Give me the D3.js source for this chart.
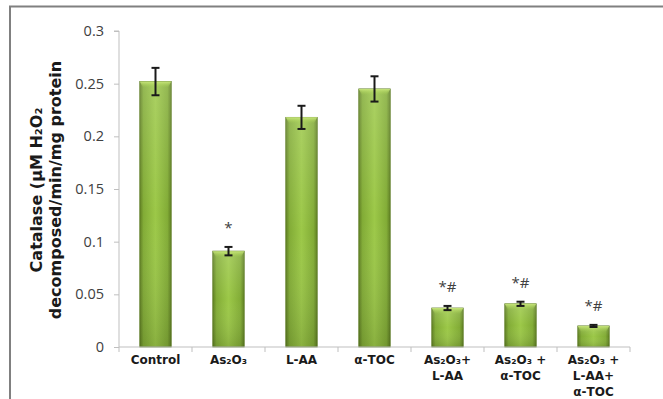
<!DOCTYPE html>
<html><head><meta charset="utf-8">
<script src="https://cdn.jsdelivr.net/npm/d3@7"></script>
<style>body{margin:0;background:#fff}svg{display:block}</style>
</head><body>
<script>
const categories = ["Control", "As₂O₃", "L-AA", "α-TOC", "As₂O₃+ L-AA", "As₂O₃ + α-TOC", "As₂O₃ + L-AA+ α-TOC"];
const values = [0.252, 0.091, 0.218, 0.245, 0.037, 0.041, 0.020];
const errors = [0.013, 0.004, 0.011, 0.012, 0.002, 0.002, 0.001];
const marks = ["", "*", "", "", "*#", "*#", "*#"];
const yTicks = [0, 0.05, 0.1, 0.15, 0.2, 0.25, 0.3];
const yTickLabels = ["0", "0.05", "0.1", "0.15", "0.2", "0.25", "0.3"];

const W = 663, H = 399;
const svg = d3.select("body").append("svg").attr("width", W).attr("height", H);

// frame
svg.append("path").attr("d", `M10,${H} L10,6.5 L${W},6.5`).attr("fill","none").attr("stroke","#808080").attr("stroke-width",2);

const x = d3.scaleBand().domain(categories).range([119, 630]).paddingInner(0.57).paddingOuter(0.285);
const y = d3.scaleLinear().domain([0, 0.3]).range([347, 31]);

const defs = svg.append("defs");
const gh = defs.append("linearGradient").attr("id","gh").attr("x1",0).attr("x2",1).attr("y1",0).attr("y2",0);
[[0,"#5f7f22"],[0.12,"#82ac36"],[0.5,"#9cc848"],[0.88,"#82ac36"],[1,"#5f7f22"]].forEach(s=>gh.append("stop").attr("offset",s[0]).attr("stop-color",s[1]));
const gv = defs.append("linearGradient").attr("id","gv").attr("x1",0).attr("x2",0).attr("y1",0).attr("y2",1);
[[0,"#ffffff",0.15],[0.5,"#ffffff",0],[1,"#000000",0.12]].forEach(s=>gv.append("stop").attr("offset",s[0]).attr("stop-color",s[1]).attr("stop-opacity",s[2]));
const gt = defs.append("linearGradient").attr("id","gt").attr("x1",0).attr("x2",0).attr("y1",0).attr("y2",1);
[[0,"#c8e67c",1],[1,"#a6d050",0]].forEach(s=>gt.append("stop").attr("offset",s[0]).attr("stop-color",s[1]).attr("stop-opacity",s[2]));

// y axis
const yAxis = d3.axisLeft(y).tickValues(yTicks).tickFormat((d,i)=>yTickLabels[i]).tickSize(5).tickPadding(10);
const ya = svg.append("g").attr("transform","translate(119,0)").call(yAxis);
ya.select(".domain").attr("stroke","#bfbfbf").attr("d","M-5,31H0V347");
ya.selectAll(".tick line").attr("stroke","#bfbfbf");
ya.selectAll(".tick text").attr("fill","#404040").style("font-family","'Open Sans', 'DejaVu Sans', sans-serif").style("font-size","14.5px");

// bars
const bars = svg.append("g");
categories.forEach((c,i)=>{
  const bx = x(c), bw = x.bandwidth(), by = y(values[i]), bh = y(0) - y(values[i]);
  bars.append("rect").attr("x",bx).attr("y",by).attr("width",bw).attr("height",bh).attr("fill","url(#gh)").attr("stroke","#5a7a20").attr("stroke-width",0.8);
  bars.append("rect").attr("x",bx).attr("y",by).attr("width",bw).attr("height",bh).attr("fill","url(#gv)");
  const th = Math.min(6, bh/2);
  bars.append("path").attr("d",`M${bx},${by} L${bx+bw},${by} L${bx+bw-3},${by+th} L${bx+3},${by+th} Z`).attr("fill","url(#gt)");
});

// x axis
const xa = svg.append("g").attr("transform","translate(0,347)");
xa.append("line").attr("x1",119).attr("x2",630).attr("stroke","#bfbfbf");
const bounds = d3.range(categories.length+1).map(i => 119 + i*(511/categories.length));
xa.selectAll(".t").data(bounds).join("line").attr("x1",d=>d).attr("x2",d=>d).attr("y1",0).attr("y2",5).attr("stroke","#bfbfbf");

// error bars
const eg = svg.append("g").attr("stroke","#1a1a1a").attr("stroke-width",2);
categories.forEach((c,i)=>{
  const cx = x(c) + x.bandwidth()/2;
  const t = y(values[i]+errors[i]), b = y(values[i]-errors[i]);
  eg.append("line").attr("x1",cx).attr("x2",cx).attr("y1",t).attr("y2",b);
  eg.append("line").attr("x1",cx-4).attr("x2",cx+4).attr("y1",t).attr("y2",t);
  eg.append("line").attr("x1",cx-4).attr("x2",cx+4).attr("y1",b).attr("y2",b);
});

// significance marks
categories.forEach((c,i)=>{
  if(!marks[i]) return;
  const cx = x(c) + x.bandwidth()/2;
  svg.append("text").attr("x",cx).attr("y",y(values[i]+errors[i]) - 14).attr("text-anchor","middle")
    .attr("fill","#404040").style("font-family","'Open Sans', 'DejaVu Sans', sans-serif").style("font-size","15px").text(marks[i]);
});

// category labels
const labelLines = categories.map(c => {
  if (c === "As₂O₃+ L-AA") return ["As₂O₃+","L-AA"];
  if (c === "As₂O₃ + α-TOC") return ["As₂O₃ +","α-TOC"];
  if (c === "As₂O₃ + L-AA+ α-TOC") return ["As₂O₃ +","L-AA+","α-TOC"];
  return [c];
});
categories.forEach((c,i)=>{
  const cx = x(c) + x.bandwidth()/2;
  const txt = svg.append("text").attr("text-anchor","middle").attr("fill","#1a1a1a")
    .style("font-family","'DejaVu Sans', sans-serif").style("font-size","12px").style("font-weight","bold");
  labelLines[i].forEach((ln,j)=>{
    txt.append("tspan").attr("x",cx).attr("y",364 + j*16).text(ln);
  });
});

// y axis title
const yt = svg.append("text").attr("transform","translate(42,190) rotate(-90)").attr("text-anchor","middle")
  .attr("fill","#1a1a1a").style("font-family","'DejaVu Sans', sans-serif").style("font-size","16px").style("font-weight","bold");
yt.append("tspan").attr("x",0).attr("y",0).text("Catalase (µM H₂O₂");
yt.append("tspan").attr("x",0).attr("y",19).text("decomposed/min/mg protein");
</script>
</body></html>
